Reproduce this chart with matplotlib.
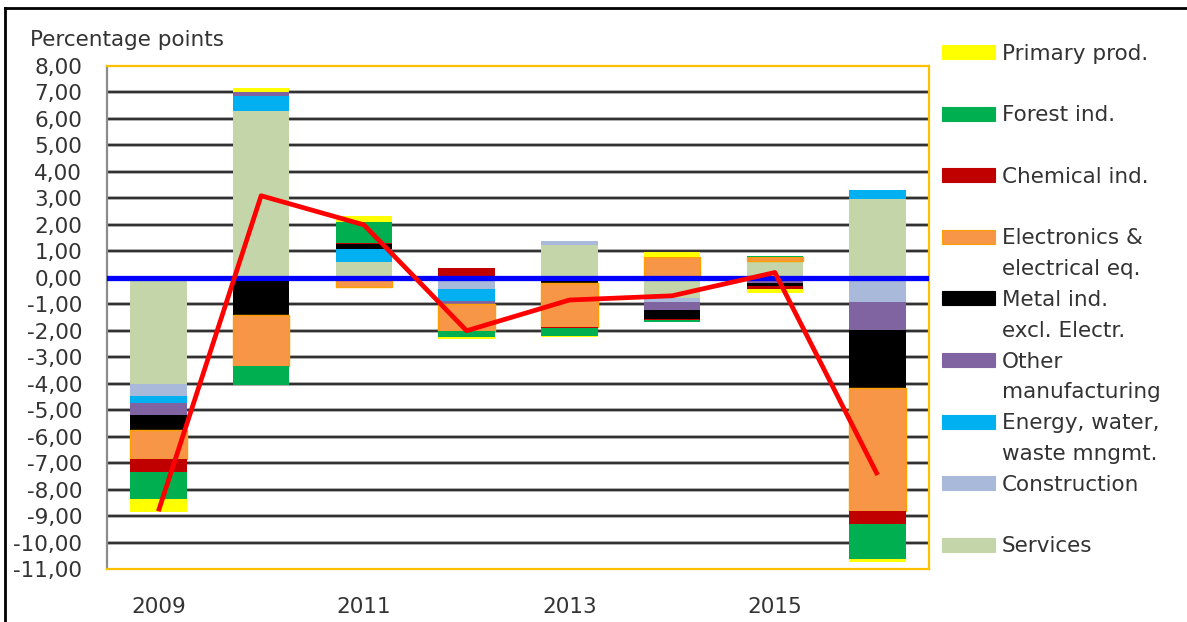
import numpy as np
import matplotlib
matplotlib.use("Agg")
import matplotlib.pyplot as plt
from matplotlib.lines import Line2D
from matplotlib.patches import Rectangle

plt.rcParams["font.family"] = ["DejaVu Sans"]

years = [2009, 2010, 2011, 2012, 2013, 2014, 2015, 2016]
tick_years = ["2009", "", "2011", "", "2013", "", "2015", ""]

# contributions, percentage points (stacking order from zero outwards)
services     = [-4.00, 6.29, 0.59, -0.05, 1.22, -0.77, 0.62, 2.98]
construction = [-0.48, 0.00, 0.00, -0.37, 0.16, -0.15, -0.10, -0.92]
energy       = [-0.24, 0.59, 0.48, -0.44, 0.00, 0.00, 0.00, 0.32]
other        = [-0.48, 0.12, 0.00, -0.14, 0.00, -0.31, -0.10, -1.07]
metal        = [-0.55, -1.40, 0.19, 0.00, -0.20, -0.32, -0.10, -2.17]
electronics  = [-1.10, -1.93, -0.35, -1.00, -1.66, 0.78, 0.16, -4.66]
chemical     = [-0.50, 0.00, 0.05, 0.37, -0.05, -0.05, -0.12, -0.49]
forest       = [-1.00, -0.73, 0.79, -0.25, -0.27, -0.07, 0.04, -1.33]
primary      = [-0.48, 0.16, 0.23, -0.06, -0.06, 0.19, -0.15, -0.09]
total        = [-8.82, 3.10, 2.00, -2.00, -0.84, -0.68, 0.20, -7.45]

series = [
    ("Services", services, "#C4D6A9", None),
    ("Construction", construction, "#A9B9D9", None),
    ("Energy, water,\nwaste mngmt.", energy, "#00B0F0", None),
    ("Other\nmanufacturing", other, "#8064A2", None),
    ("Metal ind.\nexcl. Electr.", metal, "#000000", None),
    ("Electronics &\nelectrical eq.", electronics, "#F79646", "#FFA000"),
    ("Chemical ind.", chemical, "#C00000", None),
    ("Forest ind.", forest, "#00B050", None),
    ("Primary prod.", primary, "#FFFF00", None),
]

TXT = "#333333"
FS = 15.5

fig = plt.figure(figsize=(11.87, 6.22), dpi=100)
ax = fig.add_axes([107 / 1187, 1 - 569 / 622, 822 / 1187, 503 / 622])

x = np.arange(len(years))
pos_base = np.zeros(len(years))
neg_base = np.zeros(len(years))
for name, vals, col, edge in series:
    v = np.array(vals)
    bottom = np.where(v >= 0, pos_base, neg_base)
    ax.bar(x, v, 0.55, bottom=bottom, color=col,
           edgecolor=edge if edge else col, linewidth=1.0 if edge else 0, zorder=3)
    pos_base += np.where(v >= 0, v, 0)
    neg_base += np.where(v < 0, v, 0)

for yv in range(-10, 8):
    if yv != 0:
        ax.axhline(yv, color="#9a9a9a", lw=2.6, zorder=1)
        ax.axhline(yv, color="#111111", lw=1.1, zorder=1)
ax.axhline(0, color="#0000FF", lw=3.8, zorder=4)
ax.plot(x, total, color="#FF0000", lw=3.4, zorder=5, solid_capstyle="butt")

ax.set_xlim(-0.5, 7.5)
ax.set_ylim(-11, 8)
ax.set_yticks(range(-11, 9))
ax.set_yticklabels([f"{v},00" for v in range(-11, 9)], fontsize=FS, color=TXT)
ax.set_xticks(x)
ax.set_xticklabels(tick_years, fontsize=FS, color=TXT)
ax.tick_params(axis="y", length=0, pad=18)
ax.tick_params(axis="x", length=0, pad=20)

for s in ["top", "right", "bottom"]:
    ax.spines[s].set_color("#FFC000")
    ax.spines[s].set_linewidth(1.6)
ax.spines["left"].set_color("#8c8c8c")
ax.spines["left"].set_linewidth(1.6)

fig.text(30 / 1187, 1 - 40 / 622, "Percentage points", fontsize=FS, color=TXT, va="center")

# legend, drawn top-down in reverse stacking order
for i, (name, vals, col, edge) in enumerate(series[::-1]):
    yc = 1 - (52 + i * 61.6) / 622
    fig.add_artist(Rectangle((942 / 1187, yc - 7 / 622), 53 / 1187, 14 / 622,
                             transform=fig.transFigure, facecolor=col,
                             edgecolor=edge if edge else col, lw=0.8))
    for k, line in enumerate(name.split("\n")):
        fig.text(1002 / 1187, yc - (7.5 + 31 * k) / 622, line, fontsize=FS,
                 color=TXT, va="baseline")

# outer frame (top and left only visible)
fig.add_artist(Line2D([5 / 1187, 1], [1 - 8 / 622, 1 - 8 / 622], color="black", lw=2,
                      transform=fig.transFigure))
fig.add_artist(Line2D([5 / 1187, 5 / 1187], [0, 1 - 8 / 622], color="black", lw=2,
                      transform=fig.transFigure))

fig.savefig("out.png", dpi=100)
